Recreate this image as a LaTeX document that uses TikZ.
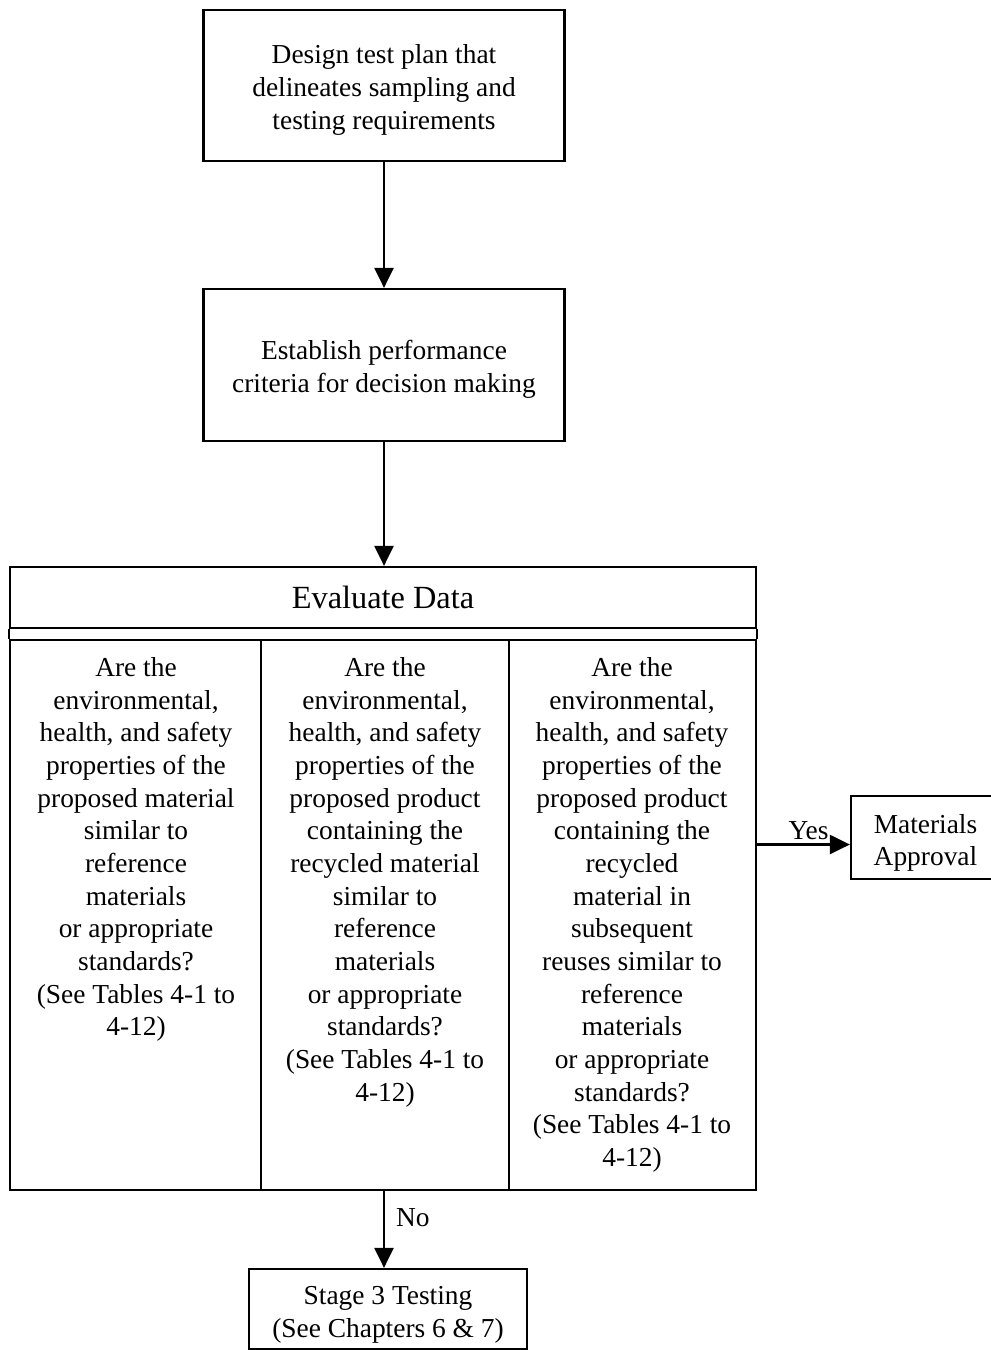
\documentclass[tikz,border=0pt]{standalone}
\usepackage{fontspec}
\setmainfont{Liberation Serif}
\usetikzlibrary{arrows.meta,positioning,calc}
\tikzset{
  every node/.style={font=\fontsize{15.6}{18.6}\selectfont, text=black},
  box/.style={draw=black, line width=1.3pt, align=center, inner sep=3pt},
  question/.style={align=center, inner sep=0pt, anchor=north},
  arr/.style={-{Triangle[length=0.4cm, width=0.38cm]}, draw=black, line width=1.3pt},
  lbl/.style={inner sep=2pt},
}
\begin{document}
\begin{tikzpicture}[x=0.02cm, y=-0.02cm]
  \useasboundingbox (0,0) rectangle (991,1350);

  % top boxes
  \node[box, minimum width=7.22cm, minimum height=3.02cm] (plan) at (384,85.5)
    {\rule{0pt}{16pt}Design test plan that\\delineates sampling and\\testing requirements};
  \node[box, minimum width=7.22cm, minimum height=3.04cm] (crit) at (384,365)
    {\rule{0pt}{16pt}Establish performance\\criteria for decision making};

  % evaluate data block
  \node[box, minimum width=14.92cm, minimum height=1.22cm, font=\fontsize{18.4}{22}\selectfont] (eval) at (383,597.5) {Evaluate Data};
  \node[box, minimum width=14.92cm, minimum height=11cm] (tab) at (383,915) {};
  \draw[line width=1.3pt] (eval.south west) -- (tab.north west);
  \draw[line width=1.3pt] (eval.south east) -- (tab.north east);
  \foreach \x in {261,509} {
    \draw[line width=1.3pt] (\x,640) -- (\x,1190);
  }

  % the three questions
  \node[question] (q1) at (136,657) {Are the\\environmental,\\health, and safety\\properties of the\\proposed material\\similar to\\reference\\materials\\or appropriate\\standards?\\(See Tables 4-1 to\\4-12)};
  \node[question] (q2) at (385,657) {Are the\\environmental,\\health, and safety\\properties of the\\proposed product\\containing the\\recycled material\\similar to\\reference\\materials\\or appropriate\\standards?\\(See Tables 4-1 to\\4-12)};
  \node[question] (q3) at (632,657) {Are the\\environmental,\\health, and safety\\properties of the\\proposed product\\containing the\\recycled\\material in\\subsequent\\reuses similar to\\reference\\materials\\or appropriate\\standards?\\(See Tables 4-1 to\\4-12)};

  % outcomes
  \node[box, minimum width=2.98cm, minimum height=1.66cm] (appr) at (925.5,837.5) {\rule{0pt}{17pt}Materials\\Approval};
  \node[box, minimum width=5.56cm, minimum height=1.6cm] (stage) at (388,1309) {\rule{0pt}{17pt}Stage 3 Testing\\(See Chapters 6 \& 7)};

  % arrows
  \draw[arr] (plan) -- (crit);
  \draw[arr] (crit) -- (crit |- eval.north);
  \draw[arr] ([yshift=-0.14cm]appr.west -| tab.east) -- node[lbl, above, xshift=0.1cm] {Yes} ([yshift=-0.14cm]appr.west);
  \draw[arr] (crit |- tab.south) -- node[lbl, right, pos=0.35, xshift=0.15cm] {No} (crit |- stage.north);
\end{tikzpicture}
\end{document}
